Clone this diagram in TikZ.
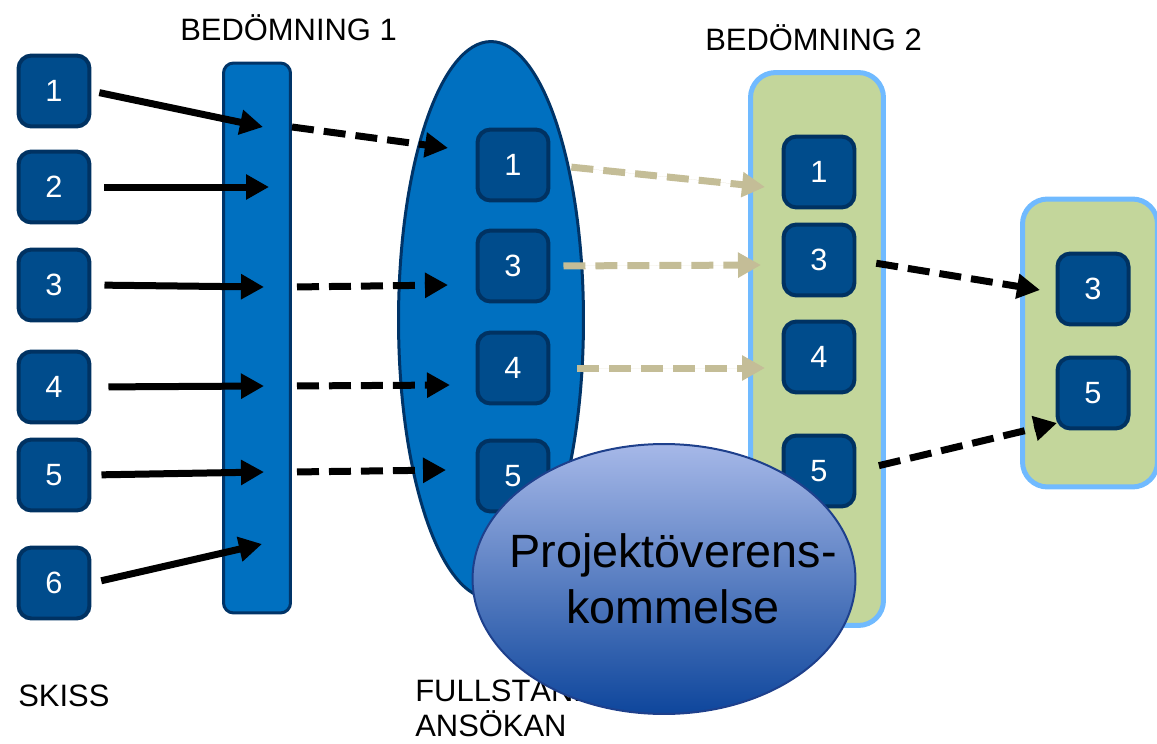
\documentclass[tikz,border=0pt]{standalone}
\usepackage{fontspec}
\setmainfont{Liberation Sans}
\usetikzlibrary{arrows.meta}
\usetikzlibrary{shapes.geometric}

\definecolor{boxFill}{RGB}{0,76,140}
\definecolor{boxBorder}{RGB}{0,50,98}
\definecolor{barBlue}{RGB}{0,112,192}
\definecolor{barBorder}{RGB}{0,52,104}
\definecolor{paleGreen}{RGB}{195,214,155}
\definecolor{skyBorder}{RGB}{112,186,255}
\definecolor{tanLine}{RGB}{196,189,151}
\definecolor{agreeTop}{RGB}{166,184,232}
\definecolor{agreeBottom}{RGB}{14,70,156}
\definecolor{agreeBorder}{RGB}{30,64,140}

\begin{document}
\begin{tikzpicture}
[x=0.02cm,y=-0.02cm,
  every node/.style={inner sep=0pt},
  capsText/.style={font=\fontsize{17.6}{20}\selectfont},
  numBox/.style={draw=boxBorder,fill=boxFill,line width=0.08cm,
    rounded corners=0.26cm,minimum size=1.42cm,text=white,
    font=\fontsize{17.5}{20}\selectfont},
  greenBox/.style={draw=skyBorder,fill=paleGreen,line width=0.1cm,
    rounded corners=0.5cm},
  solidArrow/.style={-{Triangle[length=0.46cm,width=0.48cm]},
    line width=0.14cm,black},
  blackDash/.style={solidArrow,dash pattern=on 0.44cm off 0.2cm},
  tanDash/.style={blackDash,draw=tanLine,fill=tanLine}]
\useasboundingbox (0,0) rectangle (1157,744);

% columns
\node[draw=barBorder,fill=barBlue,line width=0.06cm,rounded corners=0.2cm,
  minimum width=1.34cm,minimum height=11.0cm] (bedBar1) at (257,338) {};
\node[ellipse,draw=barBorder,fill=barBlue,line width=0.06cm,
  minimum width=3.7cm,minimum height=11.14cm] (fullEll) at (491,320) {};
\node[greenBox,minimum width=2.66cm,minimum height=11.06cm] (bedBar2) at (817,349) {};
\node[greenBox,minimum width=2.7cm,minimum height=5.76cm] (finalBox) at (1090,343) {};

% numbered boxes
\foreach \idx/\ypos in {1/91,2/187,3/285,4/387,5/475,6/583}
  \node[numBox] (s\idx) at (54,\ypos) {\idx};
\foreach \idx/\ypos in {1/165,3/266,4/368,5/476}
  \node[numBox] (e\idx) at (513,\ypos) {\idx};
\foreach \idx/\ypos in {1/172,3/260,4/357,5/471}
  \node[numBox] (g\idx) at (819,\ypos) {\idx};
\foreach \idx/\ypos in {3/289,5/393}
  \node[numBox] (r\idx) at (1093,\ypos) {\idx};

% arrow ends
\foreach \idx/\xpos/\ypos in {1/263/127,2/269/187,3/264/287,4/264/386,5/264/472,6/262/544}
  \coordinate (in\idx) at (\xpos,\ypos);
\foreach \idx/\xpos/\ypos in {1/448/148,3/448/285,4/450/385,5/446/470}
  \coordinate (eIn\idx) at (\xpos,\ypos);
\foreach \idx/\xpos/\ypos in {1/765/187,3/761/265,4/765/368}
  \coordinate (gIn\idx) at (\xpos,\ypos);
\coordinate (rIn3) at (1040,290);
\coordinate (rIn5) at (1057,423);

\path
\foreach \idx/\gap in {1/0.16cm,2/0.26cm,3/0.26cm,4/0.34cm,5/0.2cm,6/0.2cm}
{
  (s\idx.east) edge[solidArrow,shorten <=\gap] (in\idx)
};
\path
\foreach \idx/\gap in {1/0cm,3/0.1cm,4/0.1cm,5/0.1cm}
{
  (bedBar1.east |- in\idx) edge[blackDash,shorten <=\gap] (eIn\idx)
};
\path
\foreach \idx/\gap in {1/0.42cm,3/0.26cm,4/0.54cm}
{
  (e\idx.east) edge[tanDash,shorten <=\gap] (gIn\idx)
};
\draw[blackDash,shorten <=0.4cm] (g3.east) -- (rIn3);
\draw[blackDash,shorten <=0.46cm] (g5.east) -- (rIn5);

% labels
\node[capsText,anchor=base west] (lblBed1) at (180,40) {BEDÖMNING 1};
\node[capsText,anchor=base west] (lblBed2) at (705,50) {BEDÖMNING 2};
\node[capsText,anchor=base west] (lblSkiss) at (18,706) {SKISS};
\node[capsText,anchor=north west,align=left] (lblFull) at (415,675)
  {FULLSTÄNDIG\\ANSÖKAN};

% agreement
\node[ellipse,draw=agreeBorder,line width=0.04cm,top color=agreeTop,
  bottom color=agreeBottom,minimum width=7.66cm,minimum height=5.4cm]
  (agreeEll) at (664,579) {};
\node[align=center,font=\fontsize{26.6}{31.9}\selectfont]
  (agreeText) at ([xshift=0.18cm]agreeEll.center) {Projektöverens-\\kommelse};
\end{tikzpicture}
\end{document}
